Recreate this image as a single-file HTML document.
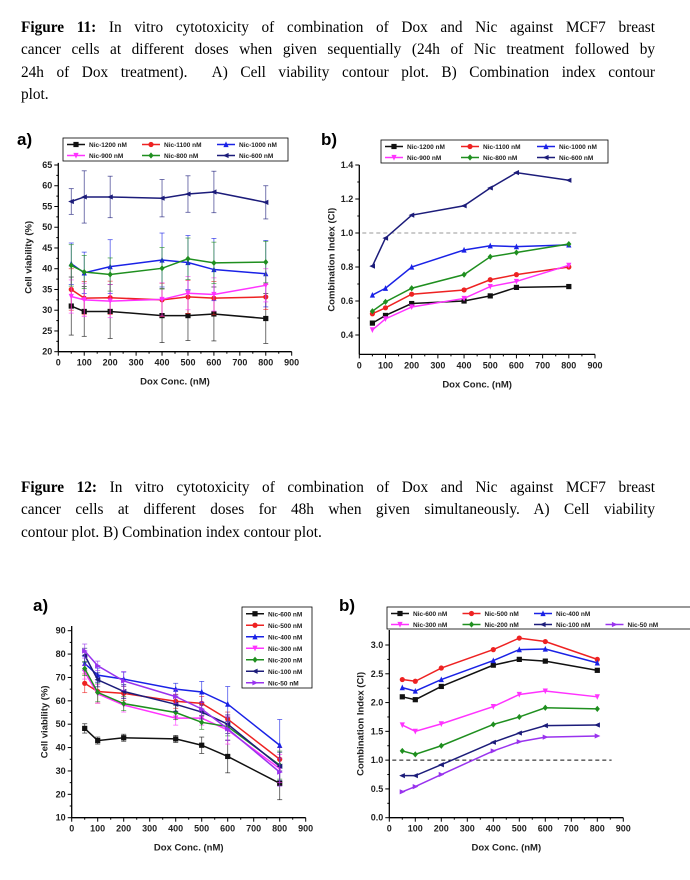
<!DOCTYPE html>
<html><head><meta charset="utf-8">
<style>
html,body{margin:0;padding:0;background:#fff;width:690px;height:880px;overflow:hidden;position:relative}
.cap{position:absolute;left:21px;width:634px;font-family:"Liberation Serif",serif;font-size:15.3px;color:#000;line-height:22.3px}
.cap div{text-align:justify;text-align-last:justify;white-space:nowrap}
.cap div.last{text-align-last:left}
svg{position:absolute;left:0;top:0}
text{font-family:"Liberation Sans",sans-serif;font-weight:bold}
</style></head><body>
<div class="cap" style="top:17px">
<div><b>Figure 11:</b> In vitro cytotoxicity of combination of Dox and Nic against MCF7 breast</div>
<div>cancer cells at different doses when given sequentially (24h of Nic treatment followed by</div>
<div>24h of Dox treatment).&nbsp; A) Cell viability contour plot. B) Combination index contour</div>
<div class="last">plot.</div>
</div>
<div class="cap" style="top:477px">
<div><b>Figure 12:</b> In vitro cytotoxicity of combination of Dox and Nic against MCF7 breast</div>
<div>cancer cells at different doses for 48h when given simultaneously. A) Cell viability</div>
<div class="last">contour plot. B) Combination index contour plot.</div>
</div>
<svg id="svg" width="690" height="880"></svg>
<script>
// ---- shared data ----
const xDose = [50,100,200,400,500,600,800];
const xTicks = [0,100,200,300,400,500,600,700,800,900];
// Figure 11a
const f11aNames = ["Nic-1200 nM","Nic-1100 nM","Nic-1000 nM","Nic-900 nM","Nic-800 nM","Nic-600 nM"];
const f11a1200 = [31,29.7,29.7,28.7,28.7,29.1,28];
const f11a1100 = [35,32.9,33,32.5,33.2,32.9,33.2];
const f11a1000 = [41.2,39,40.5,42.1,41.5,39.8,38.8];
const f11a900 = [33.3,32.5,32.2,32.6,34.1,33.8,36];
const f11a800 = [40.8,39.2,38.6,40.1,42.4,41.4,41.6];
const f11a600 = [56.2,57.3,57.3,57,58,58.5,56];
const f11aErr1200 = [7,6,6.5,6.5,6,6.5,6];
const f11aErr1100 = [5,4,4,4,4,4,3];
const f11aErr1000 = [5,5,6.5,6.5,6.5,7.5,8];
const f11aErr900 = [4,4,4,4,4,4,4];
const f11aErr800 = [5,4,4,5,5,5,5];
const f11aErr600 = [3.1,6.3,5,4.5,4.4,5,4];
const f11aYTicks = [20,25,30,35,40,45,50,55,60,65];
// Figure 11b
const f11b1200 = [0.47,0.515,0.585,0.6,0.63,0.68,0.685];
const f11b1100 = [0.525,0.56,0.64,0.665,0.725,0.755,0.8];
const f11b1000 = [0.635,0.675,0.8,0.9,0.925,0.92,0.93];
const f11b900 = [0.43,0.495,0.565,0.615,0.685,0.715,0.81];
const f11b800 = [0.54,0.595,0.675,0.755,0.86,0.885,0.935];
const f11b600 = [0.805,0.97,1.105,1.16,1.265,1.355,1.31];
const f11bYTicks = [0.4,0.6,0.8,1.0,1.2,1.4];
// Figure 12a
const f12Names = ["Nic-600 nM","Nic-500 nM","Nic-400 nM","Nic-300 nM","Nic-200 nM","Nic-100 nM","Nic-50 nM"];
const f12a600 = [48.2,43,44.2,43.7,41,36.2,24.7];
const f12a500 = [67.5,64,63.2,59.8,58.9,52.2,35];
const f12a400 = [76,71,69.3,65,63.8,58.6,41];
const f12a300 = [72.3,63,58.2,52.6,52.6,47.5,31];
const f12a200 = [73.8,63.6,58.8,55,50.8,49,32.5];
const f12a100 = [79.5,69,64,58.5,55.2,50,32];
const f12a50 = [81.3,75,68.5,61.8,56.5,48,29.5];
const f12aErr600 = [2,1.5,1.5,1.5,3.5,7,7];
const f12aErr500 = [4,5,3,3,3,3,5];
const f12aErr400 = [3,3,3,2.5,4.5,7.5,11];
const f12aErr300 = [3,4,3,3,3,6,6];
const f12aErr200 = [3,4,3,3,3,4,6];
const f12aErr100 = [3,3,3,3,3,4,6];
const f12aErr50 = [3,2,4,3,3,5,6];
const f12aYTicks = [10,20,30,40,50,60,70,80,90];
// Figure 12b
const f12b600 = [2.1,2.05,2.28,2.65,2.75,2.72,2.56];
const f12b500 = [2.4,2.37,2.6,2.92,3.12,3.06,2.75];
const f12b400 = [2.26,2.2,2.4,2.73,2.92,2.93,2.69];
const f12b300 = [1.61,1.5,1.63,1.93,2.14,2.2,2.1];
const f12b200 = [1.16,1.1,1.25,1.62,1.75,1.91,1.89];
const f12b100 = [0.73,0.73,0.92,1.31,1.47,1.6,1.61];
const f12b50 = [0.45,0.54,0.75,1.16,1.32,1.4,1.42];
const f12bYTicks = [0.0,0.5,1.0,1.5,2.0,2.5,3.0];

const C = {k:"#111",r:"#ee2222",b:"#1a22e6",m:"#ff33ff",g:"#1f8f1f",n:"#1c1c7a",p:"#9933ee"};
const NS="http://www.w3.org/2000/svg";
const svg=document.getElementById('svg');
function mk(tag,attrs,parent){const e=document.createElementNS(NS,tag);for(const k in attrs)e.setAttribute(k,attrs[k]);(parent||svg).appendChild(e);return e;}

function marker(g,shape,x,y,col){
  const s=2.6;let e;
  if(shape==='sq') e=mk('rect',{x:x-s,y:y-s,width:2*s,height:2*s,fill:col},g);
  else if(shape==='ci') e=mk('circle',{cx:x,cy:y,r:s,fill:col},g);
  else if(shape==='tu') e=mk('polygon',{points:`${x},${y-s-0.5} ${x-s},${y+s} ${x+s},${y+s}`,fill:col},g);
  else if(shape==='td') e=mk('polygon',{points:`${x},${y+s+0.5} ${x-s},${y-s} ${x+s},${y-s}`,fill:col},g);
  else if(shape==='di') e=mk('polygon',{points:`${x},${y-s-0.5} ${x+s},${y} ${x},${y+s+0.5} ${x-s},${y}`,fill:col},g);
  else if(shape==='tl') e=mk('polygon',{points:`${x-s-0.5},${y} ${x+s},${y-s} ${x+s},${y+s}`,fill:col},g);
  else e=mk('polygon',{points:`${x+s+0.5},${y} ${x-s},${y-s} ${x-s},${y+s}`,fill:col},g);
  
  
}

function chart(cfg){
  const g=mk('g',{});
  
  
  const X=v=>cfg.x0+(v-0)/900*(cfg.x1-cfg.x0);
  const Y=v=>cfg.yb+(v-cfg.ylo)/(cfg.yhi-cfg.ylo)*(cfg.yt-cfg.yb);
  const yBottom=Y(cfg.ymin), yTop=Y(cfg.ymax);
  const ax=mk('line',{x1:cfg.x0,y1:yBottom,x2:X(900),y2:yBottom,stroke:'#000','stroke-width':1.3},g);
  
  const ay=mk('line',{x1:cfg.x0,y1:yBottom,x2:cfg.x0,y2:yTop,stroke:'#000','stroke-width':1.3},g);
  
  xTicks.forEach(t=>{
    mk('line',{x1:X(t),y1:yBottom,x2:X(t),y2:yBottom+4,stroke:'#000','stroke-width':1},g);
    if(t<900) mk('line',{x1:X(t+50),y1:yBottom,x2:X(t+50),y2:yBottom+2,stroke:'#000','stroke-width':1},g);
    const tx=mk('text',{x:X(t),y:yBottom+14,'font-size':9,'text-anchor':'middle',fill:'#222'},g);
    tx.textContent=t;
  });
  cfg.yticks.forEach((t,i)=>{
    mk('line',{x1:cfg.x0,y1:Y(t),x2:cfg.x0-4,y2:Y(t),stroke:'#000','stroke-width':1},g);
    if(i<cfg.yticks.length-1){const m=(t+cfg.yticks[i+1])/2;mk('line',{x1:cfg.x0,y1:Y(m),x2:cfg.x0-2,y2:Y(m),stroke:'#000','stroke-width':1},g);}
    const tx=mk('text',{x:cfg.x0-6,y:Y(t)+3,'font-size':9,'text-anchor':'end',fill:'#222'},g);
    tx.textContent=cfg.yfmt?t.toFixed(1):t;
  });
  const xl=mk('text',{x:(cfg.x0+X(900))/2,y:yBottom+33,'font-size':9.5,'text-anchor':'middle',fill:'#222'},g);
  xl.textContent='Dox Conc. (nM)';
  const yc=(yBottom+yTop)/2, yx=cfg.x0-cfg.ylabOff;
  const yl=mk('text',{x:yx,y:yc,'font-size':9.5,'text-anchor':'middle',fill:'#222',transform:`rotate(-90 ${yx} ${yc})`},g);
  yl.textContent=cfg.ylab;
  const pl=mk('text',{x:cfg.px,y:cfg.py,'font-size':17,fill:'#000'},g);
  pl.textContent=cfg.panel;
  if(cfg.dash!=null){
    const d=mk('line',{x1:cfg.x0+3,y1:Y(cfg.dash),x2:X(cfg.dashEnd),y2:Y(cfg.dash),stroke:cfg.dashCol,'stroke-width':1,'stroke-dasharray':'4,3'},g);
    
  }
  cfg.series.forEach(s=>{
    const sg=mk('g',{},g);
    
    
    if(s.err) s.vals.forEach((v,i)=>{
      const x=X(xDose[i]);
      mk('line',{x1:x,y1:Y(v-s.err[i]),x2:x,y2:Y(v+s.err[i]),stroke:s.col,'stroke-width':0.8,opacity:0.75},sg);
      mk('line',{x1:x-2.5,y1:Y(v-s.err[i]),x2:x+2.5,y2:Y(v-s.err[i]),stroke:s.col,'stroke-width':0.8,opacity:0.75},sg);
      mk('line',{x1:x-2.5,y1:Y(v+s.err[i]),x2:x+2.5,y2:Y(v+s.err[i]),stroke:s.col,'stroke-width':0.8,opacity:0.75},sg);
    });
    const pts=s.vals.map((v,i)=>X(xDose[i])+','+Y(v)).join(' ');
    const pl=mk('polyline',{points:pts,fill:'none',stroke:s.col,'stroke-width':1.5},sg);
    
    s.vals.forEach((v,i)=>marker(sg,s.shape,X(xDose[i]),Y(v),s.col));
  });
  const L=cfg.legend;
  const lg=mk('g',{},g);
  
  mk('rect',{x:L.x,y:L.y,width:L.w,height:L.h,fill:'#fff',stroke:'#000','stroke-width':0.8},lg);
  const first=L.first||L.cols;
  cfg.series.forEach((s,i)=>{
    let col,row;
    if(i<first){col=i;row=0;}else{col=(i-first)%L.cols;row=1+Math.floor((i-first)/L.cols);}
    const ex=L.x+4+col*L.cw, ey=L.y+L.rh/2+1+row*L.rh;
    const e=mk('g',{},lg);
    
    mk('line',{x1:ex,y1:ey,x2:ex+18,y2:ey,stroke:s.col,'stroke-width':1.5},e);
    marker(e,s.shape,ex+9,ey,s.col);
    const t=mk('text',{x:ex+22,y:ey+2.5,'font-size':L.fs,fill:'#222'},e);
    t.textContent=s.name;
  });
}

chart({name:'fig11a-cell-viability-chart',panel:'a)',px:17,py:145,x0:58.3,x1:291.7,yb:351.7,yt:165,ylo:20,yhi:65,ymin:20,ymax:65.5,
  yticks:f11aYTicks,ylab:'Cell viability (%)',ylabOff:27,
  legend:{x:63,y:138,w:225,h:23,cols:3,cw:75,rh:11,fs:6.5},
  series:[
    {name:f11aNames[0],vals:f11a1200,err:f11aErr1200,col:C.k,shape:'sq'},
    {name:f11aNames[1],vals:f11a1100,err:f11aErr1100,col:C.r,shape:'ci'},
    {name:f11aNames[2],vals:f11a1000,err:f11aErr1000,col:C.b,shape:'tu'},
    {name:f11aNames[3],vals:f11a900,err:f11aErr900,col:C.m,shape:'td'},
    {name:f11aNames[4],vals:f11a800,err:f11aErr800,col:C.g,shape:'di'},
    {name:f11aNames[5],vals:f11a600,err:f11aErr600,col:C.n,shape:'tl'}]});

chart({name:'fig11b-combination-index-chart',panel:'b)',px:321,py:145,x0:359.3,x1:595,yb:335,yt:165,ylo:0.4,yhi:1.4,ymin:0.286,ymax:1.4,yfmt:true,
  yticks:f11bYTicks,ylab:'Combination Index (CI)',ylabOff:25,dash:1.0,dashEnd:840,dashCol:'#999',
  legend:{x:381,y:140,w:227,h:23,cols:3,cw:76,rh:11,fs:6.5},
  series:[
    {name:f11aNames[0],vals:f11b1200,col:C.k,shape:'sq'},
    {name:f11aNames[1],vals:f11b1100,col:C.r,shape:'ci'},
    {name:f11aNames[2],vals:f11b1000,col:C.b,shape:'tu'},
    {name:f11aNames[3],vals:f11b900,col:C.m,shape:'td'},
    {name:f11aNames[4],vals:f11b800,col:C.g,shape:'di'},
    {name:f11aNames[5],vals:f11b600,col:C.n,shape:'tl'}]});

chart({name:'fig12a-cell-viability-chart',panel:'a)',px:33,py:611,x0:71.7,x1:305.7,yb:817.7,yt:630.7,ylo:10,yhi:90,ymin:10,ymax:92,
  yticks:f12aYTicks,ylab:'Cell viability (%)',ylabOff:24,
  legend:{x:242,y:607,w:70,h:81,cols:1,cw:70,rh:11.5,fs:6.5},
  series:[
    {name:f12Names[0],vals:f12a600,err:f12aErr600,col:C.k,shape:'sq'},
    {name:f12Names[1],vals:f12a500,err:f12aErr500,col:C.r,shape:'ci'},
    {name:f12Names[2],vals:f12a400,err:f12aErr400,col:C.b,shape:'tu'},
    {name:f12Names[3],vals:f12a300,err:f12aErr300,col:C.m,shape:'td'},
    {name:f12Names[4],vals:f12a200,err:f12aErr200,col:C.g,shape:'di'},
    {name:f12Names[5],vals:f12a100,err:f12aErr100,col:C.n,shape:'tl'},
    {name:f12Names[6],vals:f12a50,err:f12aErr50,col:C.p,shape:'tr'}]});

chart({name:'fig12b-combination-index-chart',panel:'b)',px:339,py:611,x0:389.3,x1:623.3,yb:817.7,yt:645,ylo:0,yhi:3,ymin:0,ymax:3.26,yfmt:true,
  yticks:f12bYTicks,ylab:'Combination Index (CI)',ylabOff:26,dash:1.0,dashEnd:855,dashCol:'#111',
  legend:{x:387,y:607,w:310,h:22,cols:4,first:3,cw:71.5,rh:11,fs:6.5},
  series:[
    {name:f12Names[0],vals:f12b600,col:C.k,shape:'sq'},
    {name:f12Names[1],vals:f12b500,col:C.r,shape:'ci'},
    {name:f12Names[2],vals:f12b400,col:C.b,shape:'tu'},
    {name:f12Names[3],vals:f12b300,col:C.m,shape:'td'},
    {name:f12Names[4],vals:f12b200,col:C.g,shape:'di'},
    {name:f12Names[5],vals:f12b100,col:C.n,shape:'tl'},
    {name:f12Names[6],vals:f12b50,col:C.p,shape:'tr'}]});
</script>
</body></html>
